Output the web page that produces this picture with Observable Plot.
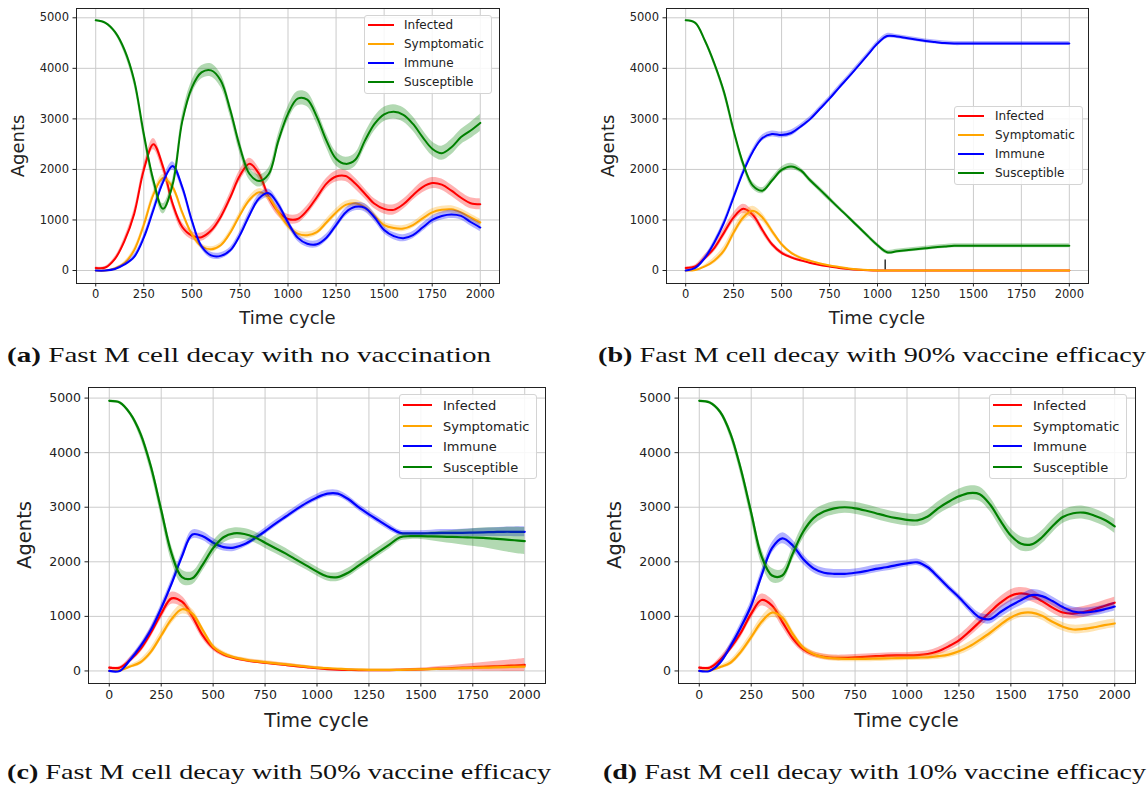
<!DOCTYPE html>
<html><head><meta charset="utf-8">
<script src="https://cdn.jsdelivr.net/npm/d3@7"></script>
<script src="https://cdn.jsdelivr.net/npm/@observablehq/plot@0.6"></script>
<style>
body{margin:0;background:#fff;}
#root{position:relative;width:1147px;height:787px;overflow:hidden;font-family:"DejaVu Sans",sans-serif;background:#fff;}
.panel{position:absolute;}
.lab{position:absolute;color:#222;white-space:nowrap;line-height:1;}
.leg{position:absolute;background:rgba(255,255,255,0.85);border:1px solid #d4d4d4;border-radius:3px;box-sizing:border-box;}
.leg .txt{position:absolute;color:#222;white-space:nowrap;line-height:1;transform:translateY(-50%);}
.leg svg{position:absolute;overflow:visible;}
.cap{position:absolute;font-family:"Liberation Serif",serif;white-space:nowrap;color:#111;line-height:1;transform-origin:0 50%;}
</style></head><body><div id="root"></div>
<script>
// ---------- shared ----------
const time = [0,50,100,150,200,250,300,350,400,450,500,550,600,650,700,750,800,850,900,950,1000,1050,1100,1150,1200,1250,1300,1350,1400,1450,1500,1550,1600,1650,1700,1750,1800,1850,1900,1950,2000];
const seriesNames = ["Infected","Symptomatic","Immune","Susceptible"];
const seriesColors = ["#ff0000","#ffa500","#0000ff","#008000"];
const xTicks = [0,250,500,750,1000,1250,1500,1750,2000];
const yTicks = [0,1000,2000,3000,4000,5000];
const captions = ["(a)","(b)","(c)","(d)"];
const captionTexts = ["Fast M cell decay with no vaccination","Fast M cell decay with 90% vaccine efficacy","Fast M cell decay with 50% vaccine efficacy","Fast M cell decay with 10% vaccine efficacy"];

// ---------- panel (a): no vaccination ----------
const aInfected    = [50,60,230,590,1120,1990,2500,2050,1320,860,690,660,790,1060,1450,1880,2110,1910,1450,1160,1020,1020,1190,1450,1720,1860,1870,1720,1520,1320,1220,1200,1310,1490,1650,1730,1700,1580,1440,1330,1310];
const aSymptomatic = [0,0,40,150,400,900,1500,1830,1650,1150,720,480,420,500,750,1100,1400,1550,1450,1150,880,730,700,760,950,1150,1300,1330,1250,1080,900,840,830,900,1030,1150,1200,1210,1150,1050,950];
const aImmune      = [0,0,30,120,270,650,1200,1750,2070,1650,990,480,300,290,400,700,1100,1430,1530,1300,950,650,530,520,650,900,1150,1260,1240,1050,800,680,640,700,850,1000,1080,1110,1080,960,850];
const aSusceptible = [4950,4900,4720,4360,3760,2700,1780,1220,1700,2950,3620,3920,3960,3760,3170,2440,1910,1770,1910,2570,3100,3400,3380,3040,2570,2210,2110,2190,2570,2900,3090,3140,3080,2900,2640,2410,2320,2440,2640,2770,2920];
const aInfectedSpread    = [20,20,40,70,90,100,110,110,100,90,80,80,80,90,100,110,110,110,100,90,90,90,90,100,100,110,110,110,100,100,100,100,100,100,110,110,110,110,110,110,110];
const aSymptomaticSpread = [0,0,20,30,50,60,70,70,70,60,50,50,50,50,60,70,70,70,70,60,60,60,60,60,70,70,70,70,70,70,60,60,60,60,70,70,70,70,70,70,70];
const aImmuneSpread      = [0,0,20,30,50,60,70,80,80,80,70,60,60,60,60,70,80,80,80,80,70,70,70,70,70,80,80,80,80,80,70,70,70,70,80,80,80,80,80,80,80];
const aSusceptibleSpread = [10,20,40,70,100,120,120,100,100,130,130,130,130,130,130,130,120,120,120,130,140,140,140,140,140,140,130,130,140,140,140,140,140,140,140,140,140,150,150,160,170];

// ---------- panel (b): 90% efficacy ----------
const bInfected    = [50,80,250,450,750,1050,1220,1100,800,520,350,260,200,150,110,80,50,30,15,5,0,0,0,0,0,0,0,0,0,0,0,0,0,0,0,0,0,0,0,0,0];
const bSymptomatic = [0,10,80,200,400,750,1050,1180,1050,780,520,350,250,190,140,100,70,40,20,8,2,0,0,0,0,0,0,0,0,0,0,0,0,0,0,0,0,0,0,0,0];
const bImmune      = [0,50,250,560,950,1450,1950,2350,2620,2700,2680,2720,2850,3000,3200,3400,3620,3830,4050,4270,4490,4640,4630,4600,4570,4540,4520,4500,4490,4490,4490,4490,4490,4490,4490,4490,4490,4490,4490,4490,4490];
const bSusceptible = [4950,4900,4550,4090,3530,2770,2110,1680,1580,1780,1990,2060,1980,1780,1600,1415,1230,1050,865,680,500,360,380,400,420,440,460,475,490,490,490,490,490,490,490,490,490,490,490,490,490];
const bInfectedSpread    = [20,30,60,80,90,90,90,80,70,50,40,30,30,20,20,15,10,10,5,5,0,0,0,0,0,0,0,0,0,0,0,0,0,0,0,0,0,0,0,0,0];
const bSymptomaticSpread = [0,10,30,60,80,90,90,90,80,60,40,30,25,20,15,10,10,5,5,0,0,0,0,0,0,0,0,0,0,0,0,0,0,0,0,0,0,0,0,0,0];
const bImmuneSpread      = [0,20,40,50,60,60,60,60,60,60,60,60,50,50,50,50,50,50,50,50,50,50,40,40,40,40,40,40,40,40,40,40,40,40,40,40,40,40,40,40,40];
const bSusceptibleSpread = [10,20,40,60,80,80,80,70,60,60,60,60,50,50,50,50,40,40,40,40,40,40,40,40,40,40,40,40,40,40,40,40,40,40,40,40,40,40,40,40,40];
const bMarkerTime = [1040];
const bMarkerLow  = [15];
const bMarkerHigh = [210];

// ---------- panel (c): 50% efficacy ----------
const cInfected    = [60,60,200,400,700,1050,1330,1270,1000,650,420,300,240,200,170,150,130,110,90,70,50,35,25,20,15,15,15,15,20,25,30,38,45,52,60,68,75,83,90,100,110];
const cSymptomatic = [0,10,80,160,350,650,950,1130,1050,750,450,320,250,210,180,160,140,120,100,80,60,50,40,30,25,20,20,20,20,25,30,35,40,45,50,55,60,65,70,75,80];
const cImmune      = [0,0,200,450,750,1150,1600,2100,2500,2470,2350,2270,2260,2320,2430,2560,2700,2830,2960,3080,3180,3250,3250,3150,3000,2870,2750,2630,2530,2520,2520,2525,2530,2530,2530,2535,2540,2545,2550,2550,2550];
const cSusceptible = [4950,4920,4720,4350,3750,2950,2150,1720,1700,1950,2250,2450,2520,2510,2450,2350,2250,2150,2040,1930,1820,1730,1720,1800,1930,2060,2190,2320,2450,2470,2470,2465,2460,2455,2450,2445,2440,2425,2410,2395,2380];
const cInfectedSpread    = [20,20,50,70,90,100,110,100,90,70,50,40,30,30,30,30,30,30,30,30,25,20,15,15,15,15,15,15,15,20,25,30,40,50,60,70,80,90,100,110,120];
const cSymptomaticSpread = [0,10,30,50,70,80,90,90,80,60,50,40,30,30,30,30,30,25,25,20,20,15,15,15,15,15,15,15,15,15,20,20,25,25,30,30,35,35,40,40,40];
const cImmuneSpread      = [0,0,40,50,60,70,80,80,80,80,80,70,70,60,60,60,60,60,60,60,60,60,60,60,60,60,60,60,50,50,50,55,60,60,65,70,75,80,85,90,90];
const cSusceptibleSpread = [10,20,40,80,110,130,140,130,120,120,120,110,100,100,100,100,100,100,90,80,80,80,80,80,80,80,80,80,70,60,60,80,100,120,140,160,180,200,220,240,250];

// ---------- panel (d): 10% efficacy ----------
const dInfected    = [60,60,200,420,700,1050,1300,1200,900,600,400,300,260,240,240,250,260,270,280,285,285,290,310,360,450,560,720,900,1080,1250,1380,1420,1380,1280,1160,1070,1050,1080,1130,1190,1250];
const dSymptomatic = [0,10,70,150,350,620,900,1070,980,680,430,310,250,230,220,220,220,225,230,235,240,245,250,270,300,360,450,570,700,850,980,1060,1070,1010,900,810,760,770,800,840,870];
const dImmune      = [0,0,150,450,800,1200,1750,2250,2430,2300,2050,1880,1800,1780,1780,1800,1830,1870,1900,1940,1970,1990,1900,1720,1530,1350,1150,980,950,1080,1200,1300,1390,1370,1280,1170,1090,1070,1090,1130,1180];
const dSusceptible = [4950,4920,4750,4350,3700,2900,2100,1750,1750,2150,2550,2800,2920,2980,3000,2980,2940,2890,2840,2800,2770,2760,2830,2980,3100,3200,3260,3240,3050,2750,2480,2330,2320,2450,2650,2820,2890,2900,2850,2770,2650];
const dInfectedSpread    = [20,20,50,70,90,100,110,110,100,80,60,50,50,50,50,50,50,50,50,50,50,60,60,70,80,90,100,110,110,110,110,110,110,100,100,100,100,100,100,100,100];
const dSymptomaticSpread = [0,10,30,50,70,80,90,90,80,70,50,50,50,50,50,50,50,50,50,50,50,50,50,60,60,70,80,80,80,80,80,80,80,80,80,80,80,80,80,80,80];
const dImmuneSpread      = [0,0,40,60,80,90,100,100,100,100,90,80,80,80,80,70,70,70,70,70,60,60,60,60,60,60,70,80,90,100,100,100,100,90,80,80,80,80,80,80,80];
const dSusceptibleSpread = [10,20,40,80,110,130,140,130,110,120,130,130,120,120,110,110,110,110,110,110,110,110,120,120,130,130,130,130,130,130,130,130,120,120,120,120,120,120,120,120,130];

// ---------- rendering ----------
const root = document.getElementById("root");

function rowsOf(values, spread) {
  return time.map((t, j) => ({t, v: values[j], lo: values[j] - spread[j], hi: values[j] + spread[j]}));
}

function drawPanel(cfg) {
  const {series, spreads, extra, left, top, frame, yDomain, tickFont, labelFont, legend, legendFont, agentsX, timeY, lineW} = cfg;
  const width = frame.r - left + 2;
  const height = frame.b - top + 28;
  const marks = [
    Plot.ruleX(xTicks, {stroke: "#cbcbcb", strokeWidth: 1}),
    Plot.ruleY(yTicks, {stroke: "#cbcbcb", strokeWidth: 1})
  ];
  series.forEach((vals, i) => {
    const rows = rowsOf(vals, spreads[i]);
    marks.push(Plot.areaY(rows, {x: "t", y1: "lo", y2: "hi", fill: seriesColors[i], fillOpacity: 0.3, curve: "catmull-rom"}));
    marks.push(Plot.line(rows, {x: "t", y: "v", stroke: seriesColors[i], strokeWidth: lineW, curve: "catmull-rom"}));
  });
  if (extra) marks.push(...extra);
  marks.push(Plot.frame({stroke: "#222", strokeWidth: 1}));
  const chart = Plot.plot({
    width, height,
    marginLeft: frame.l - left, marginRight: 2, marginTop: frame.t - top, marginBottom: height - (frame.b - top),
    x: {domain: [-100, 2100], ticks: xTicks, tickFormat: d => String(d), tickSize: 3.5, tickPadding: 3, label: null},
    y: {domain: yDomain, ticks: yTicks, tickFormat: d => String(d), tickSize: 3.5, tickPadding: 4, label: null},
    style: {fontSize: tickFont + "px", fontFamily: "DejaVu Sans", color: "#222", background: "transparent", overflow: "visible"},
    marks
  });
  const holder = document.createElement("div");
  holder.className = "panel";
  holder.style.left = left + "px";
  holder.style.top = top + "px";
  holder.appendChild(chart);
  root.appendChild(holder);

  // axis titles
  const ag = document.createElement("div");
  ag.className = "lab";
  ag.textContent = "Agents";
  ag.style.fontSize = labelFont + "px";
  ag.style.left = agentsX + "px";
  ag.style.top = ((frame.t + frame.b) / 2) + "px";
  ag.style.transform = "translate(-50%,-50%) rotate(-90deg)";
  root.appendChild(ag);
  const tc = document.createElement("div");
  tc.className = "lab";
  tc.textContent = "Time cycle";
  tc.style.fontSize = labelFont + "px";
  tc.style.left = ((frame.l + frame.r) / 2) + "px";
  tc.style.top = timeY + "px";
  tc.style.transform = "translate(-50%,-50%)";
  root.appendChild(tc);

  // legend
  const lg = document.createElement("div");
  lg.className = "leg";
  lg.style.left = legend.x + "px";
  lg.style.top = legend.y + "px";
  lg.style.width = legend.w + "px";
  lg.style.height = legend.h + "px";
  seriesNames.forEach((name, i) => {
    const cy = legend.rows[i] - legend.y - 1;
    const sw = document.createElementNS("http://www.w3.org/2000/svg", "svg");
    sw.setAttribute("width", legend.swW);
    sw.setAttribute("height", 4);
    sw.style.left = (legend.swX - legend.x - 1) + "px";
    sw.style.top = (cy - 2) + "px";
    const ln = document.createElementNS("http://www.w3.org/2000/svg", "line");
    ln.setAttribute("x1", 0); ln.setAttribute("x2", legend.swW);
    ln.setAttribute("y1", 2); ln.setAttribute("y2", 2);
    ln.setAttribute("stroke", seriesColors[i]);
    ln.setAttribute("stroke-width", 2);
    sw.appendChild(ln);
    lg.appendChild(sw);
    const tx = document.createElement("div");
    tx.className = "txt";
    tx.textContent = name;
    tx.style.fontSize = legendFont + "px";
    tx.style.left = (legend.txX - legend.x - 1) + "px";
    tx.style.top = cy + "px";
    lg.appendChild(tx);
  });
  root.appendChild(lg);
}

drawPanel({
  series: [aInfected, aSymptomatic, aImmune, aSusceptible],
  spreads: [aInfectedSpread, aSymptomaticSpread, aImmuneSpread, aSusceptibleSpread],
  left: 0, top: 0, frame: {l: 76, r: 499, t: 8, b: 283}, yDomain: [-257, 5184],
  tickFont: 11.5, labelFont: 18, legendFont: 12, lineW: 2,
  agentsX: 18, timeY: 318,
  legend: {x: 364, y: 15, w: 128, h: 79, rows: [25, 44, 63, 82], swX: 368, swW: 26, txX: 404}
});

drawPanel({
  series: [bInfected, bSymptomatic, bImmune, bSusceptible],
  spreads: [bInfectedSpread, bSymptomaticSpread, bImmuneSpread, bSusceptibleSpread],
  extra: [Plot.ruleX(bMarkerTime.map((t, i) => ({t, lo: bMarkerLow[i], hi: bMarkerHigh[i]})), {x: "t", y1: "lo", y2: "hi", stroke: "#111", strokeWidth: 1.3})],
  left: 590, top: 0, frame: {l: 666, r: 1088, t: 8, b: 283}, yDomain: [-257, 5184],
  tickFont: 11.5, labelFont: 18, legendFont: 12, lineW: 2,
  agentsX: 608, timeY: 318,
  legend: {x: 954, y: 106, w: 129, h: 79, rows: [116, 135, 154, 173], swX: 958, swW: 26, txX: 995}
});

drawPanel({
  series: [cInfected, cSymptomatic, cImmune, cSusceptible],
  spreads: [cInfectedSpread, cSymptomaticSpread, cImmuneSpread, cSusceptibleSpread],
  left: 0, top: 380, frame: {l: 88, r: 545, t: 387, b: 683}, yDomain: [-230, 5194],
  tickFont: 12.5, labelFont: 19.5, legendFont: 13, lineW: 2.2,
  agentsX: 25, timeY: 721,
  legend: {x: 399, y: 394, w: 138, h: 85, rows: [405, 426, 446, 467], swX: 403, swW: 29, txX: 443}
});

drawPanel({
  series: [dInfected, dSymptomatic, dImmune, dSusceptible],
  spreads: [dInfectedSpread, dSymptomaticSpread, dImmuneSpread, dSusceptibleSpread],
  left: 590, top: 380, frame: {l: 678, r: 1135, t: 387, b: 683}, yDomain: [-230, 5194],
  tickFont: 12.5, labelFont: 19.5, legendFont: 13, lineW: 2.2,
  agentsX: 615, timeY: 721,
  legend: {x: 989, y: 394, w: 138, h: 85, rows: [405, 426, 446, 467], swX: 993, swW: 29, txX: 1033}
});

// captions (serif, stretched horizontally to the reference's wide Computer Modern look)
const capPos = [{x: 7, cy: 355, w: 484}, {x: 598, cy: 355, w: 548}, {x: 7, cy: 772, w: 544}, {x: 603, cy: 772, w: 543}];
capPos.forEach((p, i) => {
  const c = document.createElement("div");
  c.className = "cap";
  c.style.fontSize = "22px";
  const b = document.createElement("b");
  b.textContent = captions[i];
  c.appendChild(b);
  c.appendChild(document.createTextNode(" " + captionTexts[i]));
  c.style.left = p.x + "px";
  c.style.top = (p.cy - 11) + "px";
  root.appendChild(c);
  const w = c.getBoundingClientRect().width;
  c.style.transform = "scaleX(" + (p.w / w).toFixed(4) + ")";
});
</script>
</body></html>
